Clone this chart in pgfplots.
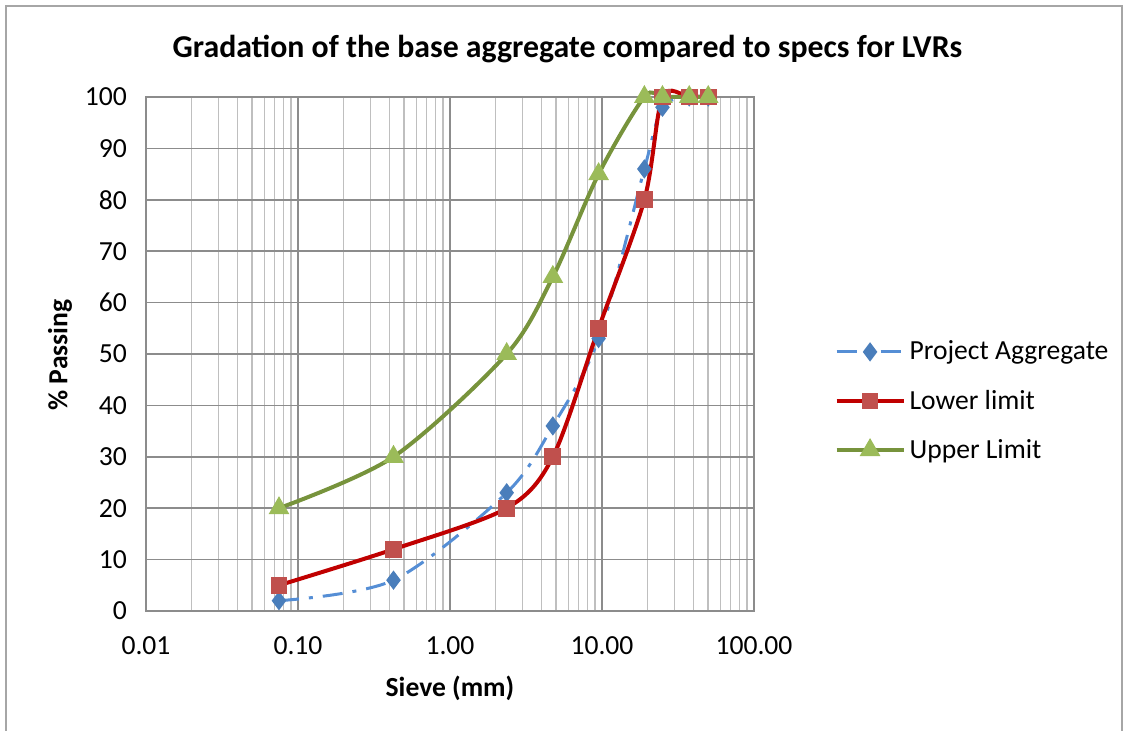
\documentclass[border=0pt]{standalone}
\usepackage{pgfplots}
\pgfplotsset{compat=1.18}
\usepackage{fontspec}
\setmainfont{Carlito}
\definecolor{paLine}{HTML}{558ED5}
\definecolor{paMark}{HTML}{4A7EBB}
\definecolor{loLine}{HTML}{C00000}
\definecolor{loMark}{HTML}{C0504D}
\definecolor{upLine}{HTML}{77933C}
\definecolor{upMark}{HTML}{9BBB59}
\definecolor{gridMajor}{HTML}{8C8C8C}
\definecolor{gridMinor}{HTML}{BFBFBF}
\newcommand{\tickfont}{\fontsize{13.8}{16}\selectfont}
\begin{document}
\begin{tikzpicture}
\useasboundingbox (0pt,0pt) rectangle (563pt,365.5pt);
\draw[gray!70, line width=0.7pt] (3pt,0pt) -- (3pt,362.5pt) -- (561pt,362.5pt) -- (561pt,0pt);
\begin{axis}[
    at={(73pt,60pt)}, anchor=south west,
    scale only axis,
    width=304pt, height=257pt,
    xmode=log,
    xmin=0.01, xmax=100,
    ymin=0, ymax=100,
    xtick={0.01,0.1,1,10,100},
    xticklabels={0.01,0.10,1.00,10.00,100.00},
    minor xtick={0.02,0.03,0.04,0.05,0.06,0.07,0.08,0.09,
                 0.2,0.3,0.4,0.5,0.6,0.7,0.8,0.9,
                 2,3,4,5,6,7,8,9,20,30,40,50,60,70,80,90},
    ytick={0,10,...,100},
    xmajorgrids=true, xminorgrids=true, ymajorgrids=true,
    major grid style={gridMajor, line width=0.75pt},
    minor grid style={gridMinor, line width=0.75pt},
    axis line style={gridMajor, line width=0.75pt},
    tick style={draw=none},
    tick label style={font=\tickfont},
    /pgf/number format/assume math mode=true,
    xticklabel style={yshift=-9.5pt},
    yticklabel style={xshift=-6pt},
    clip=false,
    legend cell align=left,
    legend style={at={(1.122,0.4086)}, anchor=west, draw=none, fill=none,
        font=\tickfont, row sep=9.5pt},
    legend image code/.code={%
        \draw[mark repeat=2, mark phase=2, #1]
        plot coordinates {(0pt,0pt) (16.75pt,0pt) (33.5pt,0pt)};},
]
\addplot[color=paLine, line width=1.5pt, dash pattern=on 10pt off 5pt on 2pt off 5pt,
    smooth, mark=diamond*, mark size=3.6pt,
    mark options={solid, fill=paMark, draw=paMark}]
coordinates {(0.075,2) (0.425,6) (2.36,23) (4.75,36) (9.5,53) (19,86) (25,98) (37.5,100) (50,100)};
\addlegendentry{Project Aggregate}
\addplot[color=loLine, line width=2pt, smooth, mark=square*, mark size=3.2pt,
    mark options={solid, fill=loMark, draw=loMark}]
coordinates {(0.075,5) (0.425,12) (2.36,20) (4.75,30) (9.5,55) (19,80) (25,100) (37.5,100) (50,100)};
\addlegendentry{Lower limit}
\addplot[color=upLine, line width=2pt, smooth, mark=triangle*, mark size=4pt,
    mark options={solid, fill=upMark, draw=upMark}]
coordinates {(0.075,20) (0.425,30) (2.36,50) (4.75,65) (9.5,85) (19,100) (25,100) (37.5,100) (50,100)};
\addlegendentry{Upper Limit}
\end{axis}
\node[font=\fontsize{15.9}{19}\selectfont\bfseries] at (283.75pt,341pt)
    {Gradation of the base aggregate compared to specs for LVRs};
\node[font=\tickfont\bfseries] at (225pt,21.5pt) {Sieve (mm)};
\node[font=\tickfont\bfseries, rotate=90] at (30pt,188pt) {\% Passing};
\end{tikzpicture}
\end{document}
